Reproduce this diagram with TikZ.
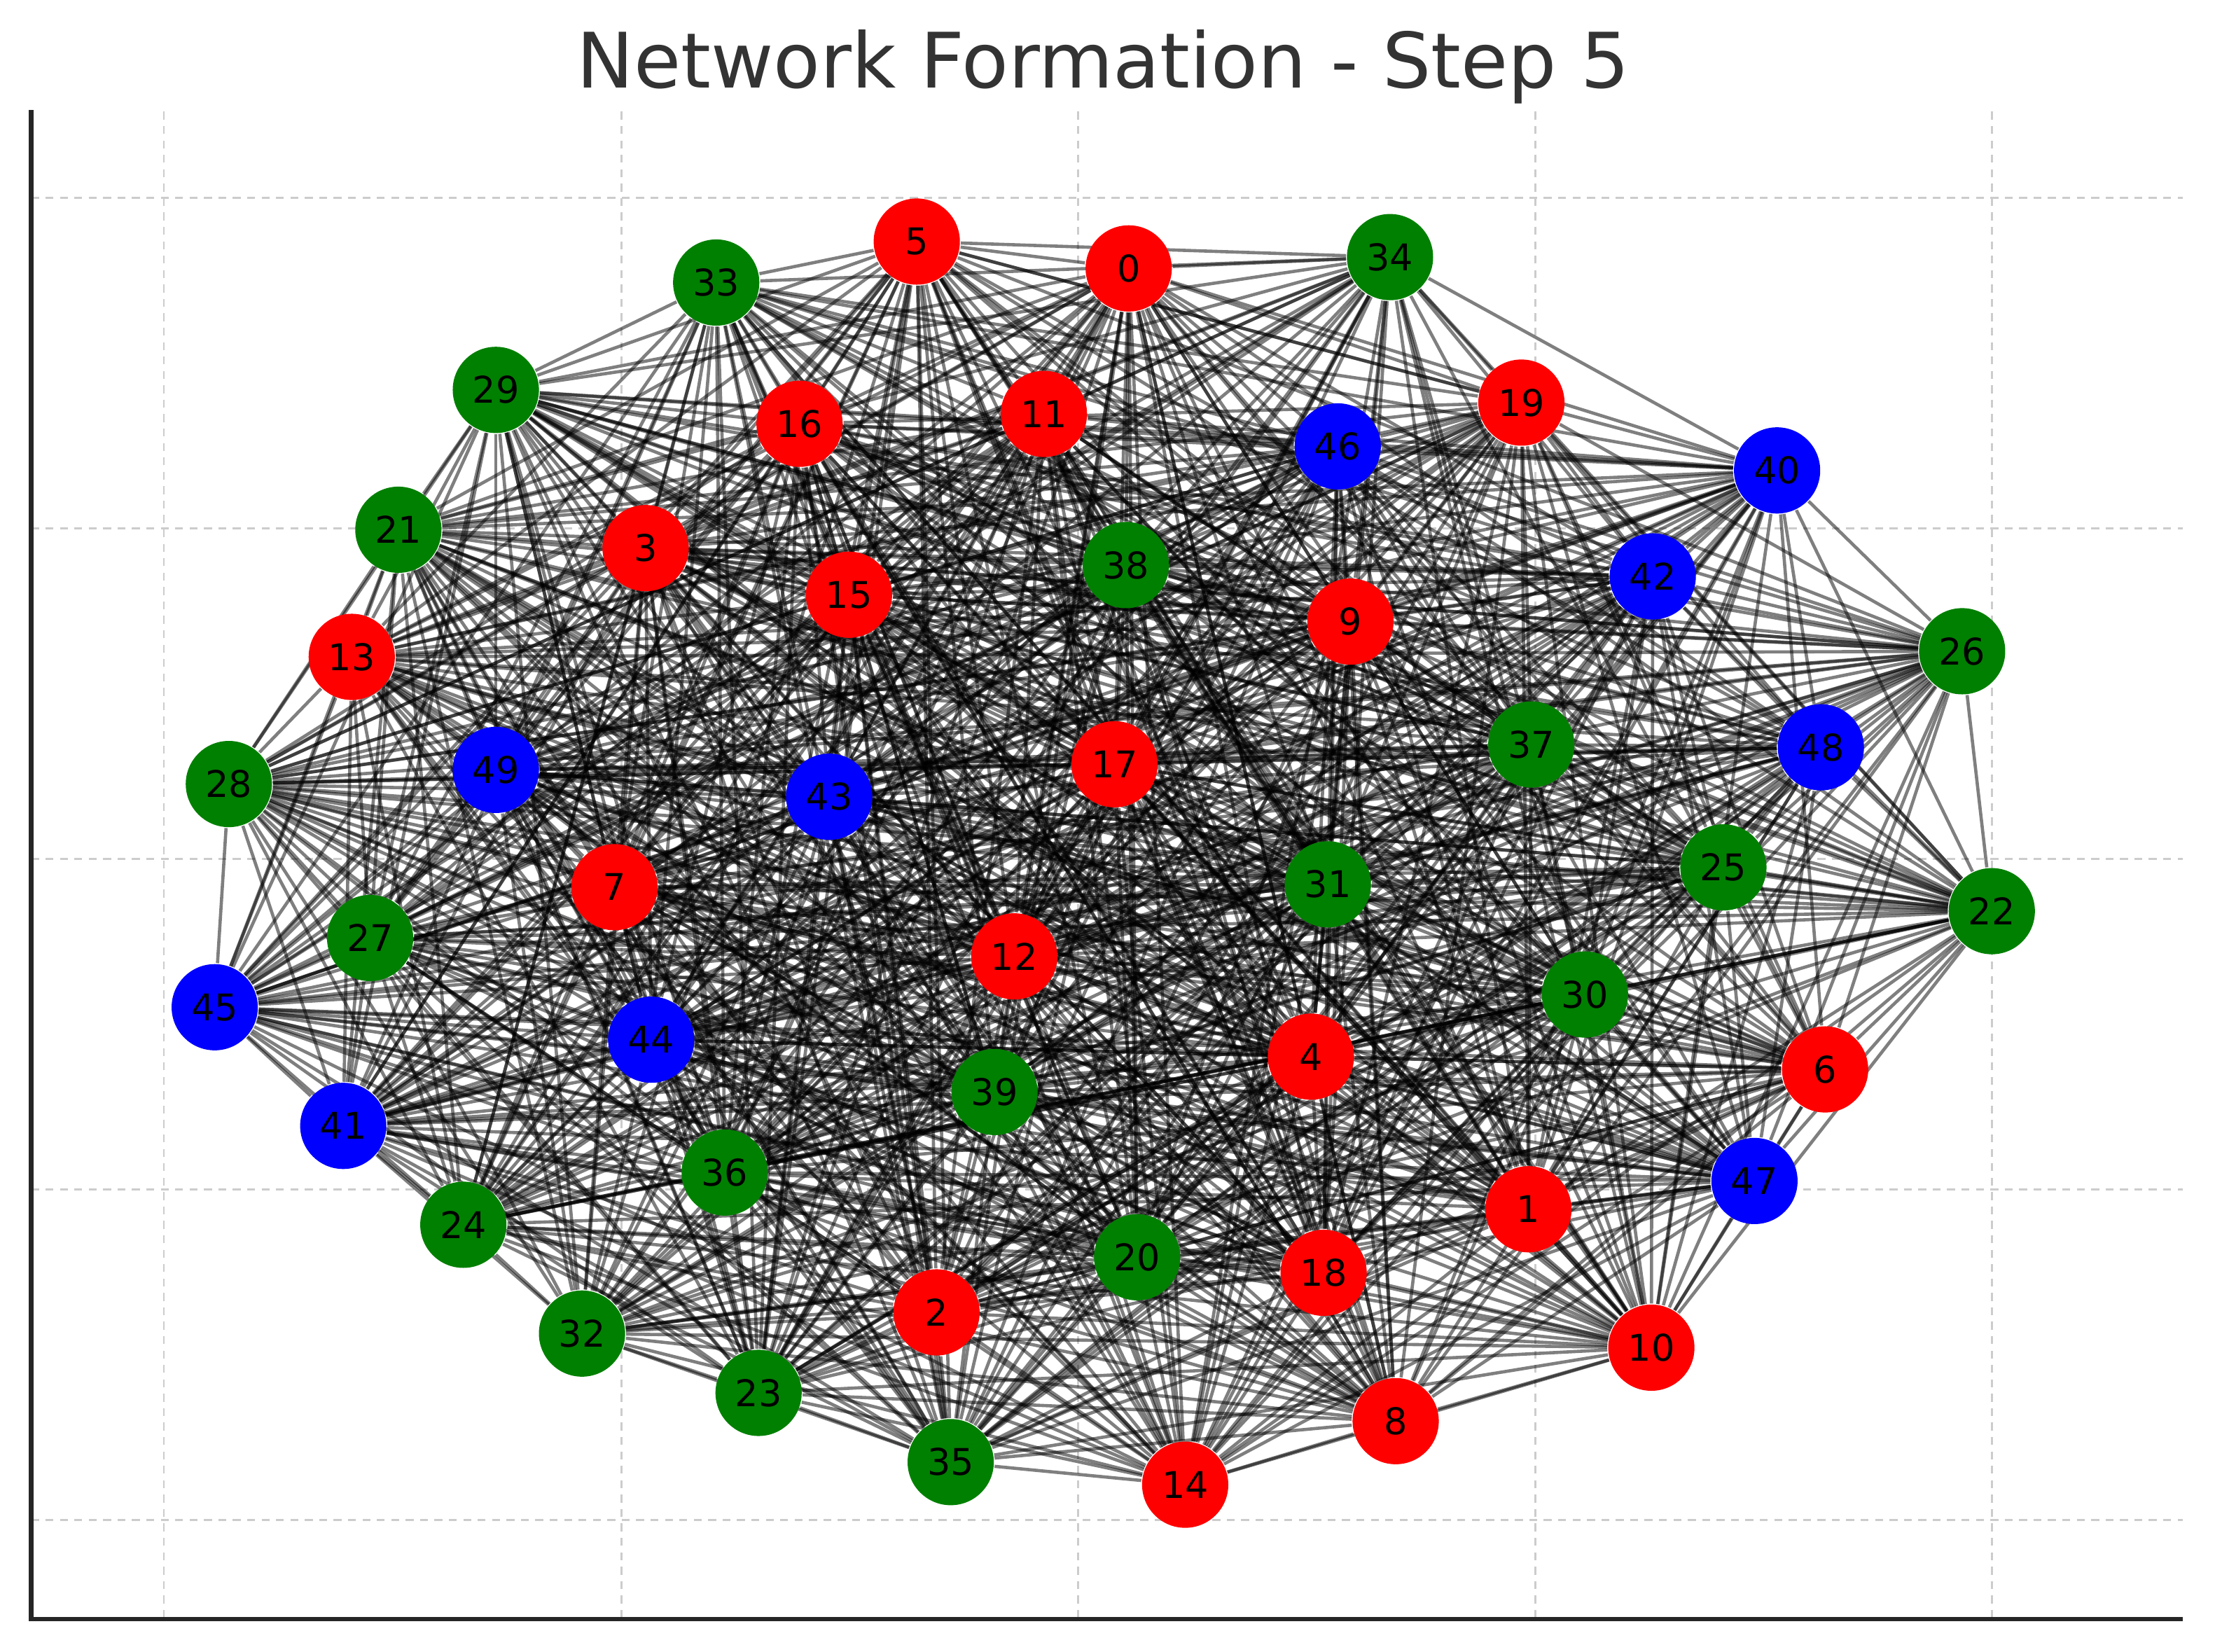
\documentclass[tikz,border=0pt]{standalone}
\usepackage{fontspec}
\setmainfont{DejaVu Sans}
\usetikzlibrary{backgrounds}
\definecolor{nxgreen}{HTML}{008000}
\definecolor{titlegray}{HTML}{333333}
\definecolor{gridgray}{HTML}{CCCCCC}
\newcommand{\titlefont}{\fontsize{15.4}{18}\selectfont}
\newcommand{\labelfont}{\fontsize{7.4}{8}\selectfont}
% pairs on the outer ring, always linked
\makeatletter
\def\ringpairs{,28-45,41-45,24-41,24-32,23-32,23-35,14-35,8-14,8-10,10-47,22-47,22-26,26-40,34-40,0-34,0-5,5-33,29-33,21-29,13-21,13-28,}
\newcommand{\ringflag}[2]{\edef\@tmp{\noexpand\in@{,#1-#2,}{\ringpairs}}\@tmp
  \ifin@\def\onring{1}\else\def\onring{0}\fi}
\makeatother
\begin{document}
\begin{tikzpicture}[x=0.01cm,y=-0.01cm]
\tikzstyle{vertex}=[circle,inner sep=0pt,minimum size=0.61cm,font=\labelfont]
\tikzstyle{link}=[draw,black,opacity=0.5,line width=0.65pt]
\tikzstyle{gridline}=[draw,gridgray,line width=0.4pt,dash pattern=on 1.6pt off 1.3pt]
\tikzstyle{spine}=[draw,black!85,line width=0.9pt]
\useasboundingbox (0,0) rectangle (1568,1169);
% title
\node[anchor=base,font=\titlefont,text=titlegray] (title) at (781,62) {Network Formation - Step 5};
% nodes
\foreach \n/\x/\y/\c in {0/799/190/red,1/1082/856/red,2/663/929/red,3/457/388/red,4/928/748/red,
  5/649/171/red,6/1292/757/red,7/435/628/red,8/988/1006/red,9/956/440/red,10/1169/954/red,
  11/739/293/red,12/718/677/red,13/249/465/red,14/839/1051/red,15/601/421/red,16/566/300/red,
  17/789/541/red,18/937/901/red,19/1077/285/red,20/805/890/nxgreen,21/282/375/nxgreen,
  22/1410/645/nxgreen,23/537/986/nxgreen,24/328/867/nxgreen,25/1220/614/nxgreen,
  26/1389/461/nxgreen,27/262/664/nxgreen,28/162/555/nxgreen,29/351/276/nxgreen,
  30/1122/704/nxgreen,31/940/626/nxgreen,32/412/944/nxgreen,33/507/200/nxgreen,
  34/984/182/nxgreen,35/673/1035/nxgreen,36/513/830/nxgreen,37/1084/527/nxgreen,
  38/797/400/nxgreen,39/704/773/nxgreen,40/1258/333/blue,41/243/797/blue,42/1170/408/blue,
  43/587/564/blue,44/461/736/blue,45/152/713/blue,46/947/316/blue,47/1242/836/blue,
  48/1289/529/blue,49/351/545/blue}
  \node[vertex,fill=\c] (n\n) at (\x,\y) {\n};
\begin{pgfonlayer}{background}
% grid
\foreach \x in {116,440,763,1087,1410}
  \path[gridline] (\x,79)--(\x,1146);
\foreach \y in {140,374,608,842,1076}
  \path[gridline] (22,\y)--(1545,\y);
% edges
\pgfmathsetseed{5}
\foreach \i in {0,...,48}{
  \pgfmathtruncatemacro{\k}{\i+1}
  \foreach \j in {\k,...,49}{
    \ringflag{\i}{\j}
    \pgfmathtruncatemacro{\keep}{(rnd<0.86)||(\onring==1)}
    \ifnum\keep=1 \path[link](n\i)--(n\j);\fi
  }
}
\end{pgfonlayer}
% axes
\path[spine](22,78)--(22,1146)--(1545,1146);
\end{tikzpicture}
\end{document}
